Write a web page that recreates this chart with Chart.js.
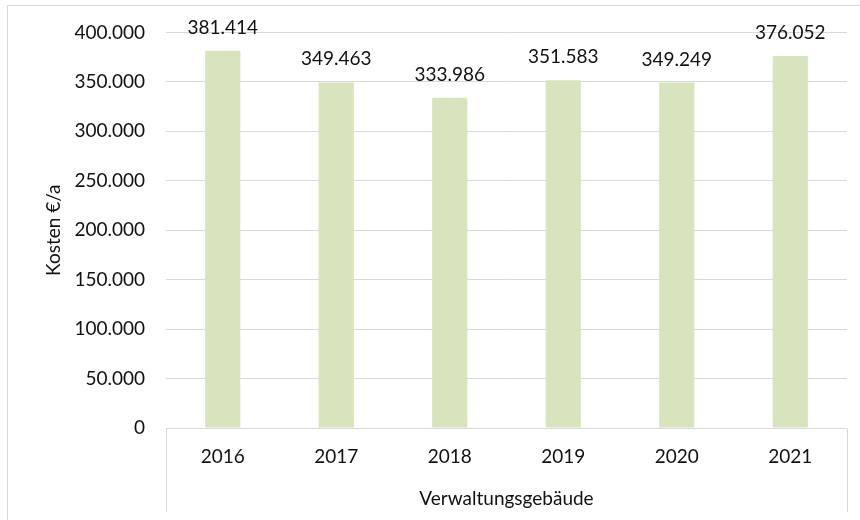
<!DOCTYPE html>
<html lang="de">
<head>
  <meta charset="UTF-8" />
  <title>Kosten Verwaltungsgebäude</title>
  <script src="https://cdn.jsdelivr.net/npm/chart.js"></script>
  <style>
    body {
      margin: 0;
      background: #fff;
      width: 860px;
      height: 520px;
      overflow: hidden;
      position: relative;
    }
    .frame {
      position: absolute;
      left: 7px;
      top: 5px;
      width: 900px;
      height: 600px;
      border: 1px solid #d9d9d9;
    }
    .chart-box {
      position: absolute;
      left: 0;
      top: 0;
      width: 860px;
      height: 520px;
    }
  </style>
</head>
<body>
  <div class="frame"></div>
  <div class="chart-box">
    <canvas id="costChart"></canvas>
  </div>

  <script>
    const years = ['2016', '2017', '2018', '2019', '2020', '2021'];
    const costs = [381414, 349463, 333986, 351583, 349249, 376052];
    const groupLabel = 'Verwaltungsgebäude';
    const yTitle = 'Kosten €/a';

    const fmt = v => v.toLocaleString('de-DE');
    const textColor = '#111';
    const lineColor = '#d9d9d9';
    const font = { family: 'Lato', size: 19 };

    // value labels over the bars
    const valueLabels = {
      id: 'valueLabels',
      afterDatasetsDraw(chart) {
        const ctx = chart.ctx;
        const meta = chart.getDatasetMeta(0);
        ctx.save();
        ctx.font = '19px Lato';
        ctx.fillStyle = textColor;
        ctx.textAlign = 'center';
        ctx.textBaseline = 'alphabetic';
        meta.data.forEach((bar, i) => {
          ctx.fillText(fmt(chart.data.datasets[0].data[i]), bar.x, bar.y - 17);
        });
        ctx.restore();
      }
    };

    // box lines left and right of the category area
    const groupBox = {
      id: 'groupBox',
      afterDraw(chart) {
        const ctx = chart.ctx;
        const x = chart.scales.x;
        ctx.save();
        ctx.strokeStyle = lineColor;
        ctx.lineWidth = 1;
        ctx.beginPath();
        [x.left, x.right].forEach(px => {
          const p = Math.round(px) + 0.5;
          ctx.moveTo(p, chart.chartArea.bottom);
          ctx.lineTo(p, 512);
        });
        ctx.stroke();
        ctx.restore();
      }
    };

    new Chart(document.getElementById('costChart'), {
      type: 'bar',
      data: {
        labels: years,
        datasets: [{
          label: yTitle,
          data: costs,
          backgroundColor: '#d7e4bd',
          barPercentage: 1,
          categoryPercentage: 0.31
        }]
      },
      options: {
        responsive: true,
        maintainAspectRatio: false,
        animation: false,
        layout: { padding: { left: 0, right: 13, top: 32, bottom: 0 } },
        plugins: {
          legend: { display: false },
          tooltip: { enabled: false }
        },
        scales: {
          x: {
            grid: { display: false },
            border: { display: true, color: lineColor },
            ticks: { color: textColor, font: font, padding: 9, maxRotation: 0 },
            title: {
              display: true,
              text: groupLabel,
              color: textColor,
              font: font,
              padding: { top: 0, bottom: 10 }
            },
            afterFit: s => { s.height = 92; }
          },
          y: {
            min: 0,
            max: 400000,
            border: { display: false },
            grid: { color: lineColor, drawTicks: false },
            ticks: {
              stepSize: 50000,
              color: textColor,
              font: font,
              padding: 21,
              callback: v => fmt(v)
            },
            title: {
              display: true,
              text: yTitle,
              color: textColor,
              font: font,
              padding: { top: 42, bottom: 0 }
            },
            afterFit: s => { s.width = 166; }
          }
        }
      },
      plugins: [valueLabels, groupBox]
    });
  </script>
</body>
</html>
